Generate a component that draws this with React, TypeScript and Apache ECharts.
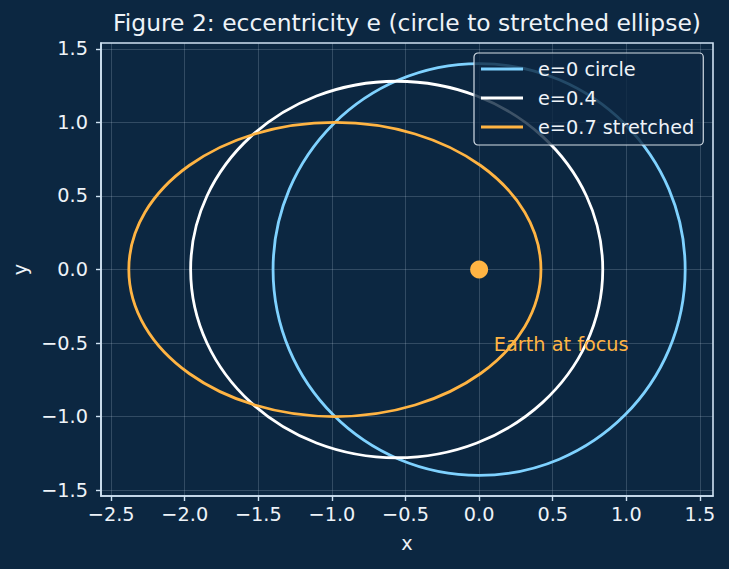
import React, { useEffect, useRef } from "react";
import * as echarts from "echarts";

// ---- data ----
const titleText = "Figure 2: eccentricity e (circle to stretched ellipse)";
const seriesNames = ["e=0 circle", "e=0.4", "e=0.7 stretched"];
const eccentricities = [0, 0.4, 0.7];
const centerX = [0, -0.56, -0.98];
const centerY = [0, 0, 0];
const semiAxisX = [1.4, 1.4, 1.4];
const semiAxisY = [1.4, 1.28, 1.0];
const earthPoint = [0, 0];
const annotationText = "Earth at focus";
const annotationPos = [0.1, -0.55];
const xTicks = [-2.5, -2.0, -1.5, -1.0, -0.5, 0.0, 0.5, 1.0, 1.5];
const yTicks = [-1.5, -1.0, -0.5, 0.0, 0.5, 1.0, 1.5];
const xExtent = [-2.569, 1.589];
const yExtent = [-1.54, 1.54];
const xName = "x";
const yName = "y";

// ---- styles ----
const BG = "#0c2741";
const SPINE = "#cfe2f2";
const TEXT = "#eef3f8";
const GRID = "rgba(207,226,242,0.22)";
const COLORS = ["#7fd2ff", "#ffffff", "#ffb443"];
const FONT = "DejaVu Sans";
const FS = 19.3;

const fmt = (v: number) => v.toFixed(1).replace("-", "\u2212");

export default function App() {
  const ref = useRef<HTMLDivElement>(null);
  useEffect(() => {
    document.body.style.margin = "0";
    const chart = echarts.init(ref.current!, null, { renderer: "svg" });

    const ellipseSeries = seriesNames.map((name, i) => ({
      name,
      type: "custom",
      coordinateSystem: "cartesian2d",
      itemStyle: { color: COLORS[i] },
      encode: { x: 0, y: 1 },
      data: [[centerX[i], centerY[i], semiAxisX[i], semiAxisY[i], eccentricities[i]]],
      z: 2 + i,
      renderItem: (params: any, api: any) => {
        const c = api.coord([api.value(0), api.value(1)]);
        const s = api.size([api.value(2), api.value(3)]);
        return {
          type: "ellipse",
          shape: { cx: c[0], cy: c[1], rx: s[0], ry: s[1] },
          style: { fill: "none", stroke: COLORS[i], lineWidth: 2.8 },
        };
      },
    }));

    const option: any = {
      animation: false,
      backgroundColor: BG,
      textStyle: { fontFamily: FONT },
      graphic: [
        {
          type: "text",
          x: 407,
          y: 23,
          style: {
            text: titleText,
            fill: TEXT,
            font: `23.4px "${FONT}"`,
            textAlign: "center",
            textVerticalAlign: "middle",
          },
        },
      ],
      grid: {
        left: 101,
        top: 43,
        width: 612,
        height: 453,
        show: true,
        borderColor: SPINE,
        borderWidth: 1.6,
        backgroundColor: "transparent",
      },
      legend: {
        orient: "vertical",
        left: 474,
        top: 53,
        padding: [5, 9, 7, 7],
        itemGap: 7,
        itemWidth: 42,
        itemHeight: 3,
        icon: "rect",
        backgroundColor: "rgba(12,39,65,0.8)",
        borderColor: "#d4dde6",
        borderWidth: 1.2,
        borderRadius: 4,
        textStyle: {
          color: TEXT,
          fontFamily: FONT,
          fontSize: FS,
          lineHeight: 22,
          padding: [0, 0, 0, 10],
        },
        data: seriesNames.map((n, i) => ({ name: n, itemStyle: { color: COLORS[i] } })),
      },
      xAxis: {
        type: "value",
        min: xExtent[0],
        max: xExtent[1],
        name: xName,
        nameLocation: "middle",
        nameGap: 38,
        nameTextStyle: { color: TEXT, fontSize: FS, fontFamily: FONT },
        axisLine: { show: true, onZero: false, lineStyle: { color: SPINE, width: 1.6 } },
        axisTick: { show: true, length: 5, customValues: xTicks, lineStyle: { color: SPINE, width: 1.4 } },
        axisLabel: {
          customValues: xTicks,
          color: TEXT,
          fontSize: FS,
          fontFamily: FONT,
          margin: 9,
          formatter: (v: number) => fmt(v),
        },
        splitLine: { show: true, lineStyle: { color: GRID, width: 0.9 } },
      },
      yAxis: {
        type: "value",
        min: yExtent[0],
        max: yExtent[1],
        name: yName,
        nameLocation: "middle",
        nameGap: 70,
        nameTextStyle: { color: TEXT, fontSize: FS, fontFamily: FONT },
        axisLine: { show: true, onZero: false, lineStyle: { color: SPINE, width: 1.6 } },
        axisTick: { show: true, length: 5, customValues: yTicks, lineStyle: { color: SPINE, width: 1.4 } },
        axisLabel: {
          customValues: yTicks,
          color: TEXT,
          fontSize: FS,
          fontFamily: FONT,
          margin: 13,
          formatter: (v: number) => fmt(v),
        },
        splitLine: { show: true, lineStyle: { color: GRID, width: 0.9 } },
      },
      series: [
        ...ellipseSeries,
        {
          name: "Earth",
          type: "scatter",
          data: [earthPoint],
          symbol: "circle",
          symbolSize: 18,
          itemStyle: { color: COLORS[2], opacity: 1 },
          z: 10,
        },
        {
          name: "annotation",
          type: "custom",
          coordinateSystem: "cartesian2d",
          encode: { x: 0, y: 1 },
          data: [annotationPos],
          z: 11,
          renderItem: (params: any, api: any) => {
            const p = api.coord([api.value(0), api.value(1)]);
            return {
              type: "text",
              x: p[0],
              y: p[1] - 6,
              style: {
                text: annotationText,
                fill: COLORS[2],
                font: `${FS}px "${FONT}"`,
                textAlign: "left",
                textVerticalAlign: "middle",
              },
            };
          },
        },
      ],
    };
    chart.setOption(option);
    return () => chart.dispose();
  }, []);
  return (
    <div
      ref={ref}
      style={{ position: "fixed", left: 0, top: 0, width: 729, height: 569 }}
    />
  );
}
